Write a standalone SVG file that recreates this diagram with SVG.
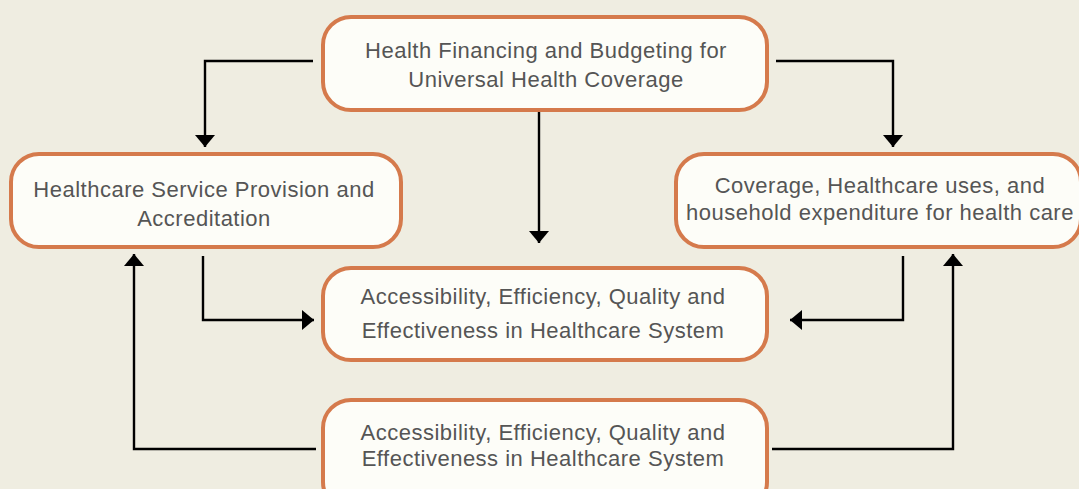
<svg xmlns="http://www.w3.org/2000/svg" width="1079" height="489" viewBox="0 0 1079 489">
  <defs>
    <marker id="arrow" viewBox="0 0 12 20" refX="12" refY="10" markerWidth="12" markerHeight="20" markerUnits="userSpaceOnUse" orient="auto">
      <path d="M0,0 L12,10 L0,20 Z" fill="#000"/>
    </marker>
    <style>
      .box { fill: #fdfdf8; stroke: #d57a4c; stroke-width: 4; }
      .label { font-family: "Liberation Sans", Arial, sans-serif; font-size: 22px; letter-spacing: 0.5px; fill: #555555; text-anchor: middle; }
      .conn { fill: none; stroke: #000; stroke-width: 2.4; marker-end: url(#arrow); }
    </style>
  </defs>

  <rect width="1079" height="489" fill="#efede1"/>

  <g id="connectors">
    <path class="conn" d="M313,61 H205 V147"/>
    <path class="conn" d="M776,61 H893 V147"/>
    <path class="conn" d="M539,112 V243"/>
    <path class="conn" d="M203,256 V320 H314"/>
    <path class="conn" d="M903,256 V320 H790"/>
    <path class="conn" d="M316,449 H134 V254"/>
    <path class="conn" d="M772,449 H953 V254"/>
  </g>

  <g id="node-financing">
    <rect class="box" x="323" y="17" width="444" height="93" rx="28"/>
    <text class="label" x="546" y="58">Health Financing and Budgeting for</text>
    <text class="label" x="546" y="87">Universal Health Coverage</text>
  </g>

  <g id="node-provision">
    <rect class="box" x="11" y="154" width="390" height="93" rx="28"/>
    <text class="label" x="204" y="197">Healthcare Service Provision and</text>
    <text class="label" x="204" y="226">Accreditation</text>
  </g>

  <g id="node-coverage">
    <rect class="box" x="676" y="154" width="405" height="93" rx="28"/>
    <text class="label" x="880" y="193">Coverage, Healthcare uses, and</text>
    <text class="label" x="880" y="220">household expenditure for health care</text>
  </g>

  <g id="node-outcomes">
    <rect class="box" x="323" y="268" width="444" height="92" rx="28"/>
    <text class="label" x="543" y="304">Accessibility, Efficiency, Quality and</text>
    <text class="label" x="543" y="338">Effectiveness in Healthcare System</text>
  </g>

  <g id="node-outcomes-lower">
    <rect class="box" x="323" y="400" width="444" height="110" rx="28"/>
    <text class="label" x="543" y="440">Accessibility, Efficiency, Quality and</text>
    <text class="label" x="543" y="466">Effectiveness in Healthcare System</text>
  </g>
</svg>
